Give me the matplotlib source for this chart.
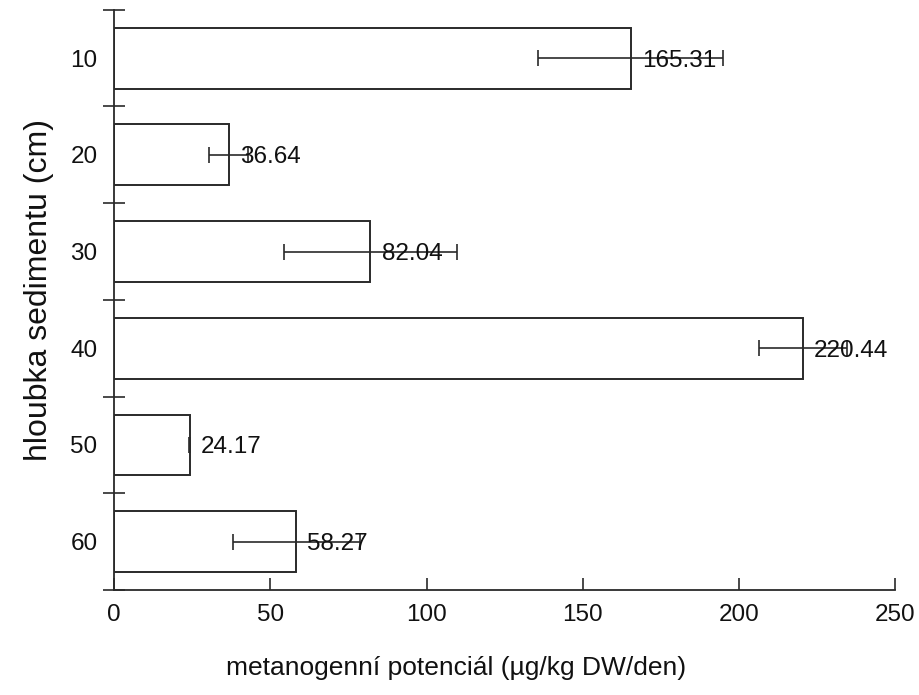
import matplotlib
matplotlib.use("Agg")
import matplotlib.pyplot as plt
import numpy as np

plt.rcParams['font.family'] = ['Liberation Sans', 'DejaVu Sans']

depths = ["10", "20", "30", "40", "50", "60"]
values = [165.31, 36.64, 82.04, 220.44, 24.17, 58.27]
errors = [29.7, 6.3, 27.7, 14.0, 0.2, 20.3]
value_labels = ["165.31", "36.64", "82.04", "220.44", "24.17", "58.27"]
xticks = [0, 50, 100, 150, 200, 250]

fig = plt.figure(figsize=(9.2, 6.95), dpi=100)
ax = fig.add_axes([0.124, 0.151, 0.849, 0.835])

y = np.arange(len(depths))
ax.barh(y, values, height=0.63, color='white', edgecolor='#2a2a2a', linewidth=1.4, zorder=2)
ax.errorbar(values, y, xerr=errors, fmt='none', ecolor='#2a2a2a', elinewidth=1.2,
            capsize=5.5, capthick=1.2, zorder=3)
for yi, v, lab in zip(y, values, value_labels):
    ax.annotate(lab, xy=(v, yi), xytext=(8, 0), textcoords='offset points',
                va='center_baseline', ha='left', fontsize=17.5, color='#111111', zorder=4)

ax.set_xlim(0, 250)
ax.set_ylim(len(depths) - 0.5, -0.5)

ax.set_xticks(xticks)
ax.set_xticklabels([str(t) for t in xticks])
ax.tick_params(axis='x', direction='in', length=9, width=1.2, pad=10,
               labelsize=17.5, color='#2a2a2a', labelcolor='#111111')

ax.set_yticks(np.arange(-0.5, len(depths), 1.0))
ax.set_yticklabels([])
ax.tick_params(axis='y', which='major', direction='inout', length=16, width=1.2, color='#2a2a2a')
ax.set_yticks(y, minor=True)
ax.set_yticklabels(depths, minor=True)
ax.tick_params(axis='y', which='minor', length=0, pad=12, labelsize=17.5, labelcolor='#111111')

for s in ['top', 'right']:
    ax.spines[s].set_visible(False)
for s in ['left', 'bottom']:
    ax.spines[s].set_linewidth(1.3)
    ax.spines[s].set_color('#2a2a2a')

ax.set_ylabel("hloubka sedimentu (cm)", fontsize=23, color='#111111', labelpad=12)
ax.yaxis.label.set_y(0.517)
ax.set_xlabel("metanogenní potenciál (µg/kg DW/den)", fontsize=19, color='#111111', labelpad=22)
ax.xaxis.label.set_x(0.438)

fig.savefig("out.png", dpi=100)
